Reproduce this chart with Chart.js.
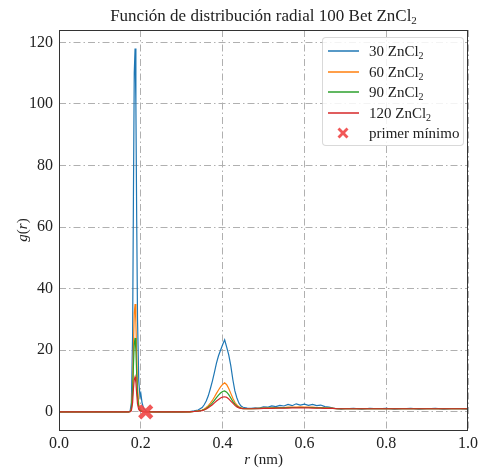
<!DOCTYPE html>
<html>
<head>
<meta charset="utf-8">
<script src="https://cdn.jsdelivr.net/npm/chart.js@4.4.1/dist/chart.umd.min.js"></script>
<style>
  body { margin: 0; background: #fff; }
  #wrap { position: relative; width: 481px; height: 468px; }
  #legend {
    position: absolute; left: 322px; top: 37px; width: 140px; height: 107px;
    border: 1px solid rgba(0,0,0,0.15); border-radius: 4px; background: rgba(255,255,255,0.85);
    font-family: "Liberation Serif", serif; font-size: 15px; color: #222;
  }
  .row { position: absolute; left: 0; height: 20px; width: 140px; }
  .row .ln { position: absolute; left: 5px; top: 9px; width: 31px; height: 2px; opacity: 0.75; }
  .row .tx { position: absolute; left: 46px; top: 0; line-height: 20px; white-space: nowrap; }
  .row sub { font-size: 10px; vertical-align: -3px; line-height: 0; }
  .row svg { position: absolute; left: 13px; top: 3px; }
</style>
</head>
<body>
<div id="wrap">
  <canvas id="rdf" width="481" height="468"></canvas>
  <div id="legend"></div>
</div>
<script>
// r (nm) grid shared by all curves
const rGrid = [
  0, 0.1, 0.17, 0.174, 0.177, 0.18, 0.182, 0.184, 0.186, 0.188, 0.19, 0.192, 0.195, 0.198, 0.2, 0.203, 0.207, 0.215,
  0.25, 0.3, 0.32, 0.33, 0.34, 0.35, 0.355, 0.36, 0.365, 0.37, 0.375, 0.38, 0.385, 0.39, 0.395, 0.4, 0.405, 0.41, 0.415, 0.42, 0.425, 0.43, 0.435, 0.44, 0.445, 0.45,
  0.46, 0.47, 0.48, 0.49, 0.5, 0.51, 0.52, 0.53, 0.54, 0.55, 0.56, 0.57, 0.58, 0.59, 0.6, 0.61, 0.62, 0.63, 0.64, 0.65, 0.66, 0.67, 0.68, 0.69, 0.7,
  0.72, 0.74, 0.76, 0.78, 0.8, 0.82, 0.84, 0.86, 0.88, 0.9, 0.92, 0.94, 0.96, 0.98, 1.0
];

const g30 = [
  0, 0, 0, 0.3, 3, 25, 70, 110, 118, 100, 62, 30, 10, 5, 6, 3, 1, 0.1,
  0, 0, 0.1, 0.3, 0.6, 1.4, 2.3, 3.5, 5.2, 7.5, 10, 12.8, 15.8, 18.2, 20, 21.8, 23.4, 21, 18.5, 15, 10.5, 6.8, 4.5, 2.8, 1.9, 1.5,
  1.2, 1.1, 1.3, 1.2, 1.6, 1.5, 1.9, 1.7, 2.1, 1.9, 2.4, 2.0, 2.6, 2.2, 2.5, 2.1, 2.4, 2.0, 2.2, 1.7, 1.5, 1.2, 1.0, 0.9, 1.0,
  1.1, 0.9, 1.1, 1.0, 1.1, 0.9, 1.0, 1.1, 0.9, 1.0, 1.1, 0.9, 1.0, 1.0, 0.9
];
const g60 = [
  0, 0, 0, 0.1, 1, 8, 21, 32, 35, 29, 18, 8, 2.5, 1, 0.8, 0.4, 0.1, 0,
  0, 0, 0, 0.1, 0.3, 0.6, 0.9, 1.4, 2.0, 2.8, 3.7, 4.8, 6.0, 7.1, 8.1, 8.9, 9.4, 8.8, 7.6, 6.0, 4.4, 3.1, 2.2, 1.6, 1.3, 1.1,
  1.0, 1.0, 1.1, 1.1, 1.2, 1.2, 1.3, 1.3, 1.4, 1.4, 1.5, 1.5, 1.5, 1.6, 1.5, 1.5, 1.5, 1.4, 1.4, 1.3, 1.2, 1.1, 1.0, 1.0, 1.0,
  1.0, 1.0, 1.0, 1.0, 1.0, 1.0, 1.0, 1.0, 1.0, 1.0, 1.0, 1.0, 1.0, 1.0, 1.0
];
const g90 = [
  0, 0, 0, 0.1, 0.8, 6, 15, 22, 24, 20, 12, 5, 1.5, 0.6, 0.5, 0.2, 0.05, 0,
  0, 0, 0, 0.1, 0.2, 0.5, 0.7, 1.1, 1.6, 2.2, 2.9, 3.7, 4.6, 5.4, 6.1, 6.6, 6.8, 6.4, 5.6, 4.5, 3.4, 2.5, 1.8, 1.4, 1.2, 1.0,
  1.0, 1.0, 1.0, 1.1, 1.1, 1.2, 1.2, 1.3, 1.3, 1.3, 1.4, 1.4, 1.4, 1.4, 1.4, 1.4, 1.4, 1.3, 1.3, 1.2, 1.2, 1.1, 1.0, 1.0, 1.0,
  1.0, 1.0, 1.0, 1.0, 1.0, 1.0, 1.0, 1.0, 1.0, 1.0, 1.0, 1.0, 1.0, 1.0, 1.0
];
const g120 = [
  0, 0, 0, 0.05, 0.4, 3, 7.5, 10.5, 11.4, 9.5, 5.8, 2.5, 0.8, 0.3, 0.2, 0.1, 0, 0,
  0, 0, 0, 0.1, 0.2, 0.4, 0.6, 0.9, 1.3, 1.8, 2.3, 2.9, 3.5, 4.0, 4.5, 4.8, 4.9, 4.7, 4.2, 3.5, 2.8, 2.1, 1.6, 1.3, 1.1, 1.0,
  1.0, 1.0, 1.0, 1.0, 1.1, 1.1, 1.1, 1.2, 1.2, 1.2, 1.2, 1.3, 1.3, 1.3, 1.3, 1.3, 1.2, 1.2, 1.2, 1.1, 1.1, 1.1, 1.0, 1.0, 1.0,
  1.0, 1.0, 1.0, 1.0, 1.0, 1.0, 1.0, 1.0, 1.0, 1.0, 1.0, 1.0, 1.0, 1.0, 1.0
];

// primer mínimo
const minR = [0.212];
const minG = [0];

const xTicks = [0, 0.2, 0.4, 0.6, 0.8, 1.0];
const yTicks = [0, 20, 40, 60, 80, 100, 120];

const seriesNames = ["30 ZnCl", "60 ZnCl", "90 ZnCl", "120 ZnCl"];
const seriesColors = ["#1f77b4", "#ff7f0e", "#2ca02c", "#d62728"];
const seriesData = [g30, g60, g90, g120];
const markerColor = "rgba(240, 70, 70, 0.9)";

const FONT = "'Liberation Serif', serif";

const datasets = seriesData.map((g, i) => ({
  label: seriesNames[i] + "2",
  data: rGrid.map((r, k) => ({ x: r, y: g[k] })),
  borderColor: seriesColors[i],
  borderWidth: 1.2,
  pointRadius: 0,
  fill: false,
  tension: 0,
  order: 4 - i,
}));
datasets.push({
  label: "primer mínimo",
  type: "scatter",
  data: minR.map((r, k) => ({ x: r, y: minG[k] })),
  borderColor: markerColor,
  backgroundColor: markerColor,
  pointStyle: "crossRot",
  pointRadius: 8.5,
  pointBorderWidth: 4.5,
  order: 0,
});

// frame + titles (mixed italic / subscript text)
const decor = {
  id: "decor",
  afterDraw(chart) {
    const ctx = chart.ctx;
    const a = chart.chartArea;
    ctx.save();
    ctx.strokeStyle = "#333";
    ctx.lineWidth = 1;
    ctx.strokeRect(Math.round(a.left) + 0.5, Math.round(a.top) + 0.5, Math.round(a.right - a.left) - 1, Math.round(a.bottom - a.top));
    ctx.fillStyle = "#222";
    ctx.textBaseline = "alphabetic";

    // title
    const t1 = "Función de distribución radial 100 Bet ZnCl";
    ctx.font = "17px " + FONT;
    const w1 = ctx.measureText(t1).width;
    ctx.font = "11px " + FONT;
    const w2 = ctx.measureText("2").width;
    const cx = (a.left + a.right) / 2;
    let x0 = cx - (w1 + w2) / 2;
    ctx.font = "17px " + FONT;
    ctx.textAlign = "left";
    ctx.fillText(t1, x0, 21);
    ctx.font = "11px " + FONT;
    ctx.fillText("2", x0 + w1, 24);

    // x label: r (nm)
    ctx.font = "italic 15px " + FONT;
    const wr = ctx.measureText("r").width;
    ctx.font = "15px " + FONT;
    const wn = ctx.measureText(" (nm)").width;
    x0 = cx - (wr + wn) / 2;
    ctx.font = "italic 15px " + FONT;
    ctx.fillText("r", x0, 464);
    ctx.font = "15px " + FONT;
    ctx.fillText(" (nm)", x0 + wr, 464);

    // y label: g(r)
    ctx.translate(27, (a.top + a.bottom) / 2);
    ctx.rotate(-Math.PI / 2);
    const parts = [["g", true], ["(", false], ["r", true], [")", false]];
    let tw = 0;
    parts.forEach(([s, it]) => { ctx.font = (it ? "italic " : "") + "15px " + FONT; tw += ctx.measureText(s).width; });
    let px = -tw / 2;
    parts.forEach(([s, it]) => {
      ctx.font = (it ? "italic " : "") + "15px " + FONT;
      ctx.fillText(s, px, 0);
      px += ctx.measureText(s).width;
    });
    ctx.restore();
  }
};

const gridDash = [7, 3, 1.5, 3];

new Chart(document.getElementById("rdf").getContext("2d"), {
  type: "line",
  data: { datasets },
  options: {
    responsive: false,
    devicePixelRatio: 1,
    animation: false,
    layout: { padding: { top: 30, right: 12, left: 0, bottom: 0 } },
    plugins: {
      legend: { display: false },
      title: { display: false },
      tooltip: { enabled: false },
    },
    scales: {
      x: {
        type: "linear",
        min: 0,
        max: 1,
        afterBuildTicks: (s) => { s.ticks = xTicks.map((v) => ({ value: v })); },
        afterFit: (s) => { s.height = 38; s.paddingLeft = 0; s.paddingRight = 0; },
        ticks: {
          font: { family: FONT, size: 16 },
          color: "#222",
          padding: 4,
          maxRotation: 0,
          callback: (v) => Number(v).toFixed(1),
        },
        grid: { color: "#b0b0b0", lineWidth: 1, drawTicks: false },
        border: { display: false, dash: gridDash },
      },
      y: {
        type: "linear",
        min: -5.9,
        max: 124,
        afterBuildTicks: (s) => { s.ticks = yTicks.map((v) => ({ value: v })); },
        afterFit: (s) => { s.width = 59; s.paddingTop = 0; s.paddingBottom = 0; },
        ticks: {
          font: { family: FONT, size: 16 },
          color: "#222",
          padding: 6,
          callback: (v) => String(v),
        },
        grid: { color: "#b0b0b0", lineWidth: 1, drawTicks: false },
        border: { display: false, dash: gridDash },
      },
    },
  },
  plugins: [decor],
});

// legend (HTML, inside the plot like the reference)
const legend = document.getElementById("legend");
seriesNames.forEach((name, i) => {
  const row = document.createElement("div");
  row.className = "row";
  row.style.top = (3 + i * 20.5) + "px";
  row.innerHTML = '<div class="ln" style="background:' + seriesColors[i] + '"></div>' +
    '<div class="tx">' + name + '<sub>2</sub></div>';
  legend.appendChild(row);
});
const mrow = document.createElement("div");
mrow.className = "row";
mrow.style.top = (3 + 4 * 20.5) + "px";
mrow.innerHTML = '<svg width="14" height="14" viewBox="0 0 14 14">' +
  '<path d="M1.5 3.5 L3.5 1.5 L7 5 L10.5 1.5 L12.5 3.5 L9 7 L12.5 10.5 L10.5 12.5 L7 9 L3.5 12.5 L1.5 10.5 L5 7 Z" fill="' + markerColor + '"/></svg>' +
  '<div class="tx">primer mínimo</div>';
legend.appendChild(mrow);
</script>
</body>
</html>
